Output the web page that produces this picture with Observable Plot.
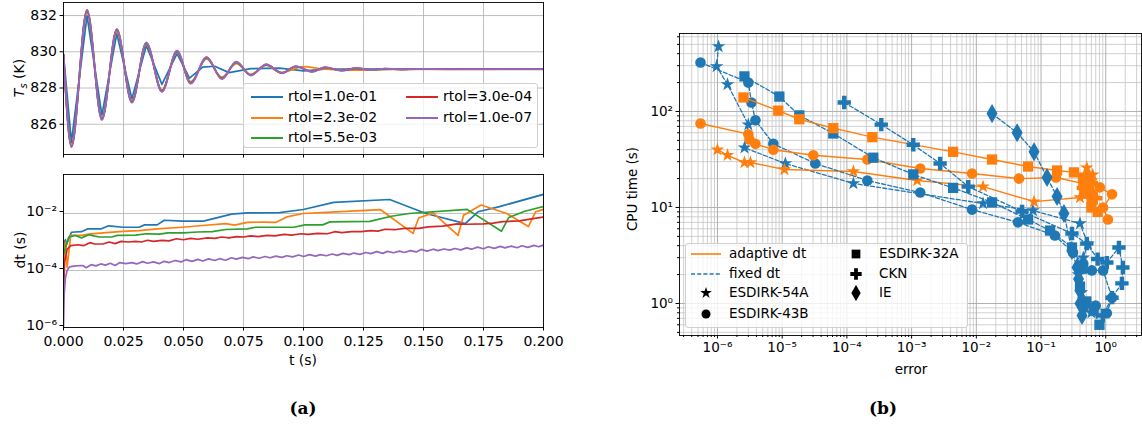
<!DOCTYPE html>
<html><head><meta charset="utf-8">
<script src="https://cdn.jsdelivr.net/npm/d3@7"></script>
<script src="https://cdn.jsdelivr.net/npm/@observablehq/plot@0.6"></script>
<style>
body{margin:0;background:#fff;font-family:"DejaVu Sans",sans-serif;}
#fig{position:relative;width:1142px;height:425px;overflow:hidden;background:#fff;}
.abs{position:absolute;}
.abs svg{overflow:visible;}
.leg{position:absolute;background:rgba(255,255,255,0.8);border:1px solid #d0d0d0;border-radius:3px;box-sizing:border-box;}
.lt{position:absolute;white-space:nowrap;line-height:1;}
.rot{position:absolute;transform:translate(-50%,-50%) rotate(-90deg);white-space:nowrap;}
.cap{position:absolute;font-family:"DejaVu Serif",serif;font-weight:bold;font-size:17px;transform:translate(-50%,-50%);}
</style></head><body><div id="fig"></div>
<script>
// ---------- Panel (a) data ----------
const tTicks = [0,0.025,0.05,0.075,0.1,0.125,0.15,0.175,0.2];
const tempTicks = [826,828,830,832];
const dtTicks = [1e-6,1e-4,1e-2];
const rtolLabels = ["rtol=1.0e-01","rtol=2.3e-02","rtol=5.5e-03","rtol=3.0e-04","rtol=1.0e-07"];
const rtolColors = ["#1f77b4","#ff7f0e","#2ca02c","#d62728","#9467bd"];

// Ts (K) vs t (s)
const temp_r1 = [[0,829.85],[0.0033,825.0],[0.0098,832.0],[0.016,826.5],[0.0222,831.0],[0.0285,827.4],[0.0345,830.35],[0.041,828.2],[0.0473,829.9],[0.0525,828.55],[0.058,829.15],[0.063,829.2],[0.069,828.85],[0.078,829.07],[0.09,829.1],[0.1,828.95],[0.11,829.05],[0.13,829.04],[0.2,829.04]];
const temp_r2 = [[0,829.85],[0.0033,824.9],[0.0098,832.15],[0.016,826.35],[0.0222,831.1],[0.0285,827.3],[0.0345,830.4],[0.041,827.9],[0.0473,829.95],[0.053,828.35],[0.0596,829.6],[0.066,828.6],[0.072,829.35],[0.078,828.75],[0.0845,829.25],[0.0905,828.85],[0.1,829.18],[0.108,829.05],[0.117,829.0],[0.125,828.98],[0.135,829.03],[0.2,829.04]];
const temp_r3 = [[0,829.85],[0.0033,824.8],[0.0098,832.25],[0.016,826.3],[0.0222,831.2],[0.0285,827.25],[0.0345,830.45],[0.041,827.85],[0.0473,830.0],[0.053,828.3],[0.0596,829.65],[0.066,828.55],[0.072,829.4],[0.078,828.72],[0.0845,829.28],[0.091,828.85],[0.0968,829.18],[0.1036,828.92],[0.109,829.12],[0.116,828.97],[0.122,829.08],[0.13,829.02],[0.145,829.05],[0.2,829.04]];
const temp_r4 = [[0,829.85],[0.0033,824.75],[0.0098,832.3],[0.016,826.25],[0.0222,831.25],[0.0285,827.2],[0.0345,830.5],[0.041,827.8],[0.0473,830.05],[0.053,828.25],[0.0596,829.7],[0.066,828.5],[0.072,829.45],[0.078,828.7],[0.0845,829.3],[0.091,828.82],[0.0968,829.2],[0.1036,828.9],[0.109,829.14],[0.116,828.96],[0.122,829.1],[0.128,829.0],[0.134,829.07],[0.141,829.02],[0.147,829.05],[0.16,829.04],[0.2,829.04]];
const temp_r5 = [[0,829.85],[0.0033,824.75],[0.0098,832.3],[0.016,826.25],[0.0222,831.25],[0.0285,827.2],[0.0345,830.5],[0.041,827.8],[0.0473,830.05],[0.053,828.25],[0.0596,829.7],[0.066,828.5],[0.072,829.45],[0.078,828.7],[0.0845,829.3],[0.091,828.82],[0.0968,829.2],[0.1036,828.9],[0.109,829.14],[0.116,828.96],[0.122,829.1],[0.128,829.0],[0.134,829.07],[0.141,829.02],[0.147,829.05],[0.16,829.04],[0.2,829.04]];

// dt (s) vs t (s)
const dt_r1 = [[0,1e-5],[0.0004,1.0e-3],[0.0008,1.2e-3],[0.0012,8e-4],[0.0033,2.2e-3],[0.0075,2.3e-3],[0.0102,2.9e-3],[0.0158,2.9e-3],[0.0188,3.7e-3],[0.0248,3.3e-3],[0.0315,3.3e-3],[0.0338,4.0e-3],[0.039,4.0e-3],[0.042,5.8e-3],[0.0495,5.4e-3],[0.0583,5.4e-3],[0.0646,7.3e-3],[0.07,9.5e-3],[0.0766,1.05e-2],[0.09,1.07e-2],[0.0999,1.38e-2],[0.1126,2.45e-2],[0.1359,3.1e-2],[0.151,1.0e-2],[0.1674,4.4e-3],[0.1727,1.15e-2],[0.1817,1.75e-2],[0.2,4.7e-2]];
const dt_r2 = [[0,2e-4],[0.0008,1e-3],[0.0015,1.3e-4],[0.003,1.7e-3],[0.008,1.75e-3],[0.0105,1.9e-3],[0.0165,2.1e-3],[0.0248,2.35e-3],[0.0315,2.5e-3],[0.039,2.9e-3],[0.0495,3.3e-3],[0.058,3.8e-3],[0.0676,4.4e-3],[0.0713,3.9e-3],[0.0766,4.9e-3],[0.083,5.0e-3],[0.0886,4.9e-3],[0.093,7.6e-3],[0.0999,1.0e-2],[0.1096,1.1e-2],[0.132,1.38e-2],[0.1456,2.0e-3],[0.148,7.0e-3],[0.154,1.05e-2],[0.1644,1.7e-3],[0.1667,8.7e-3],[0.174,2.0e-2],[0.1847,1.0e-2],[0.1937,3.5e-3],[0.1967,1.15e-2],[0.2,1.4e-2]];
const dt_r3 = [[0,3.5e-4],[0.001,7e-4],[0.0022,1.5e-3],[0.005,1.7e-3],[0.0075,1.4e-3],[0.0105,1.8e-3],[0.013,1.6e-3],[0.015,1.5e-3],[0.02,1.5e-3],[0.0225,1.7e-3],[0.03,1.75e-3],[0.0345,1.95e-3],[0.04,1.9e-3],[0.0435,2.1e-3],[0.05,2.1e-3],[0.056,2.25e-3],[0.062,2.3e-3],[0.0676,2.75e-3],[0.0766,2.9e-3],[0.08,3.3e-3],[0.096,3.3e-3],[0.1006,4.0e-3],[0.108,4.0e-3],[0.111,5.1e-3],[0.1276,5.3e-3],[0.1366,8.0e-3],[0.144,1.0e-2],[0.1682,1.4e-2],[0.1825,2.4e-3],[0.1855,7.2e-3],[0.1922,1.2e-2],[0.2,1.75e-2]];
const dt_r4 = [[0,3e-5],[0.0005,2e-4],[0.0015,5.5e-4],[0.003,7.5e-4],[0.006,8e-4],[0.0085,7.5e-4],[0.011,9.5e-4],[0.013,8.5e-4],[0.0165,8.5e-4],[0.019,1.0e-3],[0.0215,8.8e-4],[0.024,1.05e-3],[0.027,1.0e-3],[0.03,1.05e-3],[0.0325,1.0e-3],[0.035,1.15e-3],[0.0375,1.05e-3],[0.041,1.15e-3],[0.044,1.1e-3],[0.047,1.3e-3],[0.05,1.2e-3],[0.053,1.35e-3],[0.056,1.25e-3],[0.06,1.4e-3],[0.063,1.35e-3],[0.066,1.5e-3],[0.069,1.4e-3],[0.072,1.55e-3],[0.075,1.5e-3],[0.078,1.65e-3],[0.081,1.55e-3],[0.085,1.7e-3],[0.088,1.65e-3],[0.092,1.85e-3],[0.095,1.75e-3],[0.099,1.95e-3],[0.102,1.85e-3],[0.106,2.0e-3],[0.11,1.95e-3],[0.113,2.3e-3],[0.116,2.15e-3],[0.12,2.3e-3],[0.124,2.3e-3],[0.128,2.5e-3],[0.131,2.4e-3],[0.134,2.8e-3],[0.138,2.7e-3],[0.142,3.0e-3],[0.148,3.0e-3],[0.152,3.4e-3],[0.158,3.6e-3],[0.164,4.3e-3],[0.168,4.2e-3],[0.175,4.3e-3],[0.179,4.6e-3],[0.183,5.2e-3],[0.19,5.5e-3],[0.195,6.5e-3],[0.2,7.5e-3]];
const dt_r5 = [[0,1e-6],[0.0003,1.5e-5],[0.0008,5.5e-5],[0.0015,1.0e-4],[0.0025,1.35e-4],[0.005,1.45e-4],[0.008,1.5e-4],[0.0095,1.25e-4],[0.0115,1.6e-4],[0.0135,1.45e-4],[0.0155,1.7e-4],[0.0175,1.55e-4],[0.0195,1.8e-4],[0.0215,1.5e-4],[0.0235,1.9e-4],[0.026,1.75e-4],[0.0285,1.9e-4],[0.0305,1.7e-4],[0.033,2.05e-4],[0.035,1.8e-4],[0.0375,2.0e-4],[0.04,1.75e-4],[0.042,2.1e-4],[0.044,1.9e-4],[0.0465,2.25e-4],[0.049,2.0e-4],[0.051,2.4e-4],[0.0535,2.1e-4],[0.056,2.45e-4],[0.058,2.15e-4],[0.0605,2.55e-4],[0.063,2.25e-4],[0.065,2.6e-4],[0.0675,2.3e-4],[0.07,2.8e-4],[0.072,2.5e-4],[0.0745,2.9e-4],[0.077,2.6e-4],[0.079,3.0e-4],[0.0815,2.7e-4],[0.084,3.1e-4],[0.086,2.8e-4],[0.0885,3.2e-4],[0.091,2.9e-4],[0.093,3.3e-4],[0.0955,3.0e-4],[0.098,3.5e-4],[0.1,3.1e-4],[0.1025,3.6e-4],[0.105,3.2e-4],[0.107,3.6e-4],[0.1095,3.3e-4],[0.112,3.8e-4],[0.114,3.4e-4],[0.1165,4.0e-4],[0.119,3.6e-4],[0.121,4.1e-4],[0.1235,3.7e-4],[0.126,4.3e-4],[0.128,3.9e-4],[0.1305,4.6e-4],[0.133,4.0e-4],[0.135,4.7e-4],[0.1375,4.2e-4],[0.14,4.8e-4],[0.142,4.3e-4],[0.1445,5.0e-4],[0.147,4.5e-4],[0.149,5.5e-4],[0.1515,4.8e-4],[0.154,5.6e-4],[0.156,5.0e-4],[0.1585,5.7e-4],[0.161,5.2e-4],[0.163,5.9e-4],[0.1655,5.3e-4],[0.168,6.2e-4],[0.17,5.6e-4],[0.1725,6.6e-4],[0.175,5.8e-4],[0.177,6.8e-4],[0.1795,6.0e-4],[0.182,7.0e-4],[0.184,6.2e-4],[0.1865,7.2e-4],[0.189,6.3e-4],[0.191,7.4e-4],[0.1935,6.5e-4],[0.196,7.6e-4],[0.198,6.8e-4],[0.2,7.8e-4]];

// ---------- Panel (b) data: [error, CPU time (s)] ----------
const methodNames = ["ESDIRK-54A","ESDIRK-43B","ESDIRK-32A","CKN","IE"];
const methodSymbols = ["star","circle","square","cross","diamond"];
const modeLabels = ["adaptive dt","fixed dt"];
const fixedColor = "#1f77b4", adaptiveColor = "#ff7f0e";
const errTicks = [1e-6,1e-5,1e-4,1e-3,1e-2,1e-1,1];
const cpuTicks = [1,10,100];

const fixed_54A = [[1.04e-6,475],[9.7e-7,294],[1.43e-6,191],[3.0e-6,73],[2.61e-6,42],[1.12e-5,28.7],[1.26e-4,17.8],[1.27e-2,11.0],[7.5e-2,9.3],[0.40,6.8],[0.53,4.2],[0.45,3.0],[0.38,2.0],[0.42,1.3],[0.5,1.0],[0.6,0.8]];
const fixed_43B = [[5.47e-7,324],[3.0e-6,200],[3.35e-6,124],[3.86e-6,81],[7.3e-6,46],[3.25e-5,28.7],[2.07e-4,19.1],[1.36e-3,14.3],[8.6e-3,9.5],[4.4e-2,7.0],[0.164,5.1],[0.312,3.4],[0.45,2.6],[0.61,2.21],[0.91,2.21],[1.25,1.15],[1.04,0.79],[0.7,0.95],[0.45,0.9]];
const fixed_32A = [[2.61e-6,232],[9.05e-6,143],[1.84e-5,91],[6.16e-5,59],[2.56e-4,33],[1.06e-3,22.1],[4.38e-3,16.0],[1.75e-2,11.3],[6.3e-2,7.5],[0.138,5.75],[0.301,3.83],[0.43,2.3],[0.40,1.5],[0.5,1.05],[0.65,0.85],[0.8,0.6]];
const fixed_CKN = [[9.1e-5,124],[3.4e-4,73],[1.06e-3,45],[2.76e-3,28.7],[7.5e-3,16.5],[5.09e-2,9.1],[0.301,5.36],[0.51,4.2],[0.75,2.9],[1.04,2.67],[1.6,3.83],[1.84,2.37],[1.78,1.62],[1.25,1.15],[0.9,0.75]];
const fixed_IE = [[1.75e-2,95],[4.27e-2,60],[7.8e-2,38],[0.124,20.5],[0.177,13.0],[0.226,8.66],[0.30,3.56],[0.36,2.37],[0.38,1.8],[0.40,1.36],[0.40,1.0],[0.43,0.75]];
const adaptive_54A = [[1e-6,40],[1.43e-6,35],[2.61e-6,29.4],[3.23e-6,29.4],[1.08e-5,24.9],[1.26e-4,23.7],[1.22e-3,19.1],[1.27e-2,16.5],[7.8e-2,11.5],[0.40,12.7],[0.55,14.5],[0.6,19],[0.51,26],[0.63,22]];
const adaptive_43B = [[5.47e-7,75],[3.0e-6,58],[3.12e-6,51],[3.86e-6,46],[7.3e-6,40],[3.03e-5,35],[2.07e-4,31.6],[1.36e-3,25.5],[8.6e-3,22.6],[4.57e-2,20.0],[0.17,20.5],[0.81,16.2],[1.25,13.7],[0.91,10],[1.08,7.5]];
const adaptive_32A = [[2.52e-6,140],[8.7e-6,102],[1.84e-5,83],[6.16e-5,67],[2.47e-4,54],[4.38e-3,38],[1.75e-2,31.6],[6.3e-2,26.7],[0.177,24.3],[0.323,23.2],[0.445,20.5],[0.45,17],[0.47,14],[0.6,10],[0.75,9]];
const adaptive_CKN = [[0.45,16],[0.55,13],[0.7,12.5],[0.6,18]];
const adaptive_IE = [[0.5,20],[0.55,16],[0.65,13]];

// ---------- helpers ----------
const supMap = {"-":"⁻","0":"⁰","1":"¹","2":"²","3":"³","4":"⁴","5":"⁵","6":"⁶","7":"⁷","8":"⁸","9":"⁹"};
const pow10 = d => "10" + String(Math.round(Math.log10(d))).replace(/[-0-9]/g, c => supMap[c]);
const minorTicks = (lo, hi, dom) => { const o=[]; for (let e=lo;e<=hi;e++) for (let k=2;k<=9;k++){const v=k*10**e; if(v>dom[0]&&v<dom[1]) o.push(v);} return o; };
const fig = document.getElementById("fig");
function place(el, left, top){ const w=document.createElement("div"); w.className="abs"; w.style.left=left+"px"; w.style.top=top+"px"; w.appendChild(el); fig.appendChild(w); return w; }
function addText(cls, html, x, y, extra){ const d=document.createElement("div"); d.className=cls; d.innerHTML=html; d.style.left=x+"px"; d.style.top=y+"px"; if(extra) Object.assign(d.style, extra); fig.appendChild(d); return d; }
const gridStyle = {stroke:"#b0b0b0", strokeOpacity:1, strokeWidth:0.8};
const px = d => d[0], py = d => d[1];

// ---------- top-left: Ts ----------
const tempSeries = [temp_r1,temp_r2,temp_r3,temp_r4,temp_r5];
const topPlot = Plot.plot({
  width: 600, height: 170, marginLeft: 63, marginRight: 57, marginTop: 2, marginBottom: 16,
  x: {domain: [0, 0.2]},
  y: {domain: [824.33, 832.72]},
  style: {fontFamily: "DejaVu Sans", fontSize: "14px", color: "black", background: "transparent", overflow: "visible"},
  marks: [
    Plot.gridX(tTicks, gridStyle),
    Plot.gridY(tempTicks, gridStyle),
    ...tempSeries.map((s, i) => Plot.line(s, {x: px, y: py, stroke: rtolColors[i], strokeWidth: i === 4 ? 2 : 1.7, curve: i === 0 ? "linear" : "monotone-x", clip: true})),
    Plot.frame({stroke: "black", strokeWidth: 0.9}),
    Plot.axisX(tTicks, {tickSize: 3.5, tickFormat: () => "", label: null}),
    Plot.axisY(tempTicks, {tickSize: 3.5, tickPadding: 3, tickFormat: d => String(d), label: null})
  ]
});
place(topPlot, 0, 0);

// ---------- bottom-left: dt ----------
const dtSeries = [dt_r1,dt_r2,dt_r3,dt_r4,dt_r5];
const botPlot = Plot.plot({
  width: 600, height: 210, marginLeft: 63, marginRight: 57, marginTop: 14, marginBottom: 43,
  x: {domain: [0, 0.2]},
  y: {type: "log", domain: [1e-6, 0.234]},
  style: {fontFamily: "DejaVu Sans", fontSize: "14px", color: "black", background: "transparent", overflow: "visible"},
  marks: [
    Plot.gridX(tTicks, gridStyle),
    Plot.gridY(dtTicks, gridStyle),
    ...dtSeries.map((s, i) => Plot.line(s, {x: px, y: py, stroke: rtolColors[i], strokeWidth: 1.7, clip: true})),
    Plot.frame({stroke: "black", strokeWidth: 0.9}),
    Plot.axisX(tTicks, {tickSize: 3.5, tickPadding: 5, tickFormat: d3.format(".3f"), label: null}),
    Plot.axisY(dtTicks, {tickSize: 3.5, tickPadding: 3, dy: -2, tickFormat: pow10, label: null})
  ]
});
place(botPlot, 0, 160);

addText("rot", "<i>T</i><sub style='font-size:10px'><i>s</i></sub> (K)", 20, 78, {fontSize:"14px"});
addText("rot", "dt (s)", 20, 250, {fontSize:"14px"});
addText("lt", "t (s)", 303, 360, {fontSize:"14px", transform:"translate(-50%,-50%)"});
addText("cap", "(a)", 303, 408);

// left legend
const legA = document.createElement("div"); legA.className = "leg";
Object.assign(legA.style, {left:"243px", top:"83px", width:"295px", height:"65px"});
fig.appendChild(legA);
const legPos = [[7,13],[7,34],[7,54],[162,13],[162,34]];
rtolLabels.forEach((lab, i) => {
  const [lx, ly] = legPos[i];
  const ln = document.createElement("div");
  Object.assign(ln.style, {position:"absolute", left:lx+"px", top:(ly-1)+"px", width:"32px", height:"2px", background:rtolColors[i]});
  legA.appendChild(ln);
  const tx = document.createElement("div"); tx.className = "lt"; tx.textContent = lab;
  Object.assign(tx.style, {left:(lx+37)+"px", top:(ly-8)+"px", fontSize:"14px"});
  legA.appendChild(tx);
});

// ---------- right: CPU time vs error ----------
const xDom = [2.59e-7, 3.57], yDom = [0.464, 649];
const xMinor = minorTicks(-7, 0, xDom), yMinor = minorTicks(-1, 2, yDom);
const fixedSets = [fixed_54A, fixed_43B, fixed_32A, fixed_CKN, fixed_IE];
const adaptiveSets = [adaptive_54A, adaptive_43B, adaptive_32A, adaptive_CKN, adaptive_IE];
const symR = {star: 4.3, circle: 5.3, square: 5.8, cross: 5.6, diamond: 5.8};
const methodMarks = methodNames.flatMap((m, i) => [
  Plot.line(fixedSets[i], {x: px, y: py, stroke: fixedColor, strokeWidth: 1.3, strokeDasharray: "4,2.2"}),
  Plot.dot(fixedSets[i], {x: px, y: py, symbol: methodSymbols[i], fill: fixedColor, r: symR[methodSymbols[i]]}),
  Plot.line(adaptiveSets[i], {x: px, y: py, stroke: adaptiveColor, strokeWidth: 1.4}),
  Plot.dot(adaptiveSets[i], {x: px, y: py, symbol: methodSymbols[i], fill: adaptiveColor, r: symR[methodSymbols[i]]})
]);
const rightPlot = Plot.plot({
  width: 542, height: 390, marginLeft: 79, marginRight: 1, marginTop: 33, marginBottom: 55,
  x: {type: "log", domain: xDom},
  y: {type: "log", domain: yDom},
  style: {fontFamily: "DejaVu Sans", fontSize: "13.5px", color: "black", background: "transparent", overflow: "visible"},
  marks: [
    Plot.gridX(xMinor, {stroke:"#c4c4c4", strokeOpacity:1, strokeWidth:0.8}),
    Plot.gridY(yMinor, {stroke:"#c4c4c4", strokeOpacity:1, strokeWidth:0.8}),
    Plot.gridX(errTicks, {stroke:"#b0b0b0", strokeOpacity:1, strokeWidth:1}),
    Plot.gridY(cpuTicks, {stroke:"#b0b0b0", strokeOpacity:1, strokeWidth:1}),
    ...methodMarks,
    Plot.frame({stroke: "black", strokeWidth: 0.9}),
    Plot.axisX(xMinor, {tickSize: 2, tickFormat: () => "", label: null}),
    Plot.axisY(yMinor, {tickSize: 2, tickFormat: () => "", label: null}),
    Plot.axisX(errTicks, {tickSize: 3.5, tickPadding: 3, tickFormat: pow10, label: null}),
    Plot.axisY(cpuTicks, {tickSize: 3.5, tickPadding: 3, tickFormat: pow10, label: null})
  ]
});
place(rightPlot, 600, 0);

addText("rot", "CPU time (s)", 632, 189, {fontSize:"13.5px"});
addText("lt", "error", 911, 370, {fontSize:"13.5px", transform:"translate(-50%,-50%)"});
addText("cap", "(b)", 883, 408);

// right legend
const legB = document.createElement("div"); legB.className = "leg";
Object.assign(legB.style, {left:"685px", top:"243px", width:"283px", height:"85px"});
fig.appendChild(legB);
function legRow(x, y, kind, label, sym){
  const s = d3.create("svg").attr("width", 36).attr("height", 16).style("position","absolute").style("left",(x)+"px").style("top",(y-8)+"px");
  if (kind === "adaptive") s.append("line").attr("x1",3).attr("x2",33).attr("y1",8).attr("y2",8).attr("stroke",adaptiveColor).attr("stroke-width",1.6);
  else if (kind === "fixed") s.append("line").attr("x1",3).attr("x2",33).attr("y1",8).attr("y2",8).attr("stroke",fixedColor).attr("stroke-width",1.6).attr("stroke-dasharray","4,2.2");
  else {
    const t = {star:d3.symbolStar, circle:d3.symbolCircle, square:d3.symbolSquare, cross:d3.symbolCross, diamond:d3.symbolDiamond}[sym];
    const r = symR[sym] * 0.85;
    s.append("path").attr("d", d3.symbol(t, r*r*Math.PI)()).attr("transform","translate(18,8)").attr("fill","black");
  }
  legB.appendChild(s.node());
  const tx = document.createElement("div"); tx.className = "lt"; tx.textContent = label;
  Object.assign(tx.style, {left:(x+41)+"px", top:(y-7)+"px", fontSize:"13.5px"});
  legB.appendChild(tx);
}
const rowsY = [10, 30, 49, 70];
legRow(2, rowsY[0], "adaptive", modeLabels[0]);
legRow(2, rowsY[1], "fixed", modeLabels[1]);
legRow(2, rowsY[2], "marker", methodNames[0], methodSymbols[0]);
legRow(2, rowsY[3], "marker", methodNames[1], methodSymbols[1]);
legRow(152, rowsY[0], "marker", methodNames[2], methodSymbols[2]);
legRow(152, rowsY[1], "marker", methodNames[3], methodSymbols[3]);
legRow(152, rowsY[2], "marker", methodNames[4], methodSymbols[4]);
</script></body></html>
